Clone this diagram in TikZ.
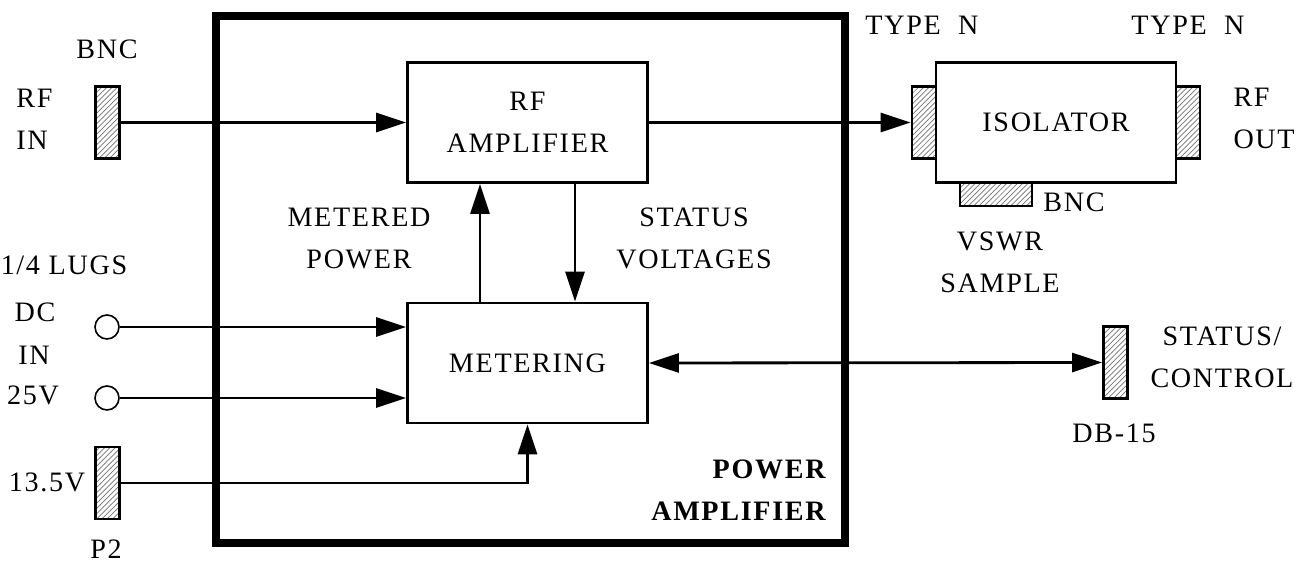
\documentclass[tikz,border=0pt]{standalone}
\usepackage{fontspec}
\setmainfont{Liberation Serif}[LetterSpace=6]
\usetikzlibrary{arrows.meta, patterns}
\newcommand{\labelfont}{\fontsize{16}{24}\selectfont}
\tikzset{
  frame line/.style={line width=4.5pt},
  block box/.style={draw, line width=1.6pt, fill=white, minimum width=4.8cm, minimum height=2.4cm, align=center, font=\labelfont},
  jack box/.style={draw, line width=1.6pt, pattern=north east lines, pattern color=black!55, minimum width=0.48cm, minimum height=1.44cm, inner sep=0pt},
  lug ring/.style={draw, line width=0.9pt, circle, minimum size=0.48cm, inner sep=0pt},
  signal line/.style={line width=1.6pt, -{Triangle[length=0.6cm, width=0.38cm]}},
  both line/.style={line width=1.6pt, {Triangle[length=0.6cm, width=0.38cm]}-{Triangle[length=0.6cm, width=0.38cm]}},
  label text/.style={font=\labelfont, align=center, inner sep=0pt, text depth=0pt},
}

\begin{document}
\begin{tikzpicture}[x=0.02cm, y=-0.02cm]
  \useasboundingbox (0,0) rectangle (1298,563);
  % power amplifier enclosure
  \draw[frame line] (216,16) rectangle (845,543);
  \node[label text, font=\labelfont\bfseries, align=right, anchor=east] (palabel) at (826,490) {POWER\\AMPLIFIER};
  % blocks
  \node[block box] (rfamp) at (527.5,122.5) {RF\\AMPLIFIER};
  \node[block box] (meter) at (527.5,363) {METERING};
  \node[jack box, minimum width=1.44cm, minimum height=0.48cm] (vswr) at (996,194) {};
  \node[block box] (iso) at (1056,122.5) {ISOLATOR};
  % connectors
  \node[jack box] (rfin) at (107.5,122.5) {};
  \node[jack box] (isoin) at (924,122.5) {};
  \node[jack box] (isoout) at (1188,122.5) {};
  \node[jack box] (db15) at (1115.5,362.5) {};
  \node[jack box] (ptwo) at (107.5,483) {};
  \node[lug ring] (lugpos) at (107,327) {};
  \node[lug ring] (lugneg) at (107,398) {};
  % labels
  \node[label text] (bnctag) at (107,49) {BNC};
  \node[label text, align=left, anchor=west] (rfintag) at (16,119) {RF\\IN};
  \node[label text] (lugstag) at (64,265) {1/4 LUGS};
  \node[label text] (dctag) at (35,312) {DC};
  \node[label text] (intag) at (34,355) {IN};
  \node[label text] (vtag) at (33,395) {25V};
  \node[label text] (ltag) at (47,482) {13.5V};
  \node[label text] (ptag) at (106,549) {P2};
  \node[label text] (mptag) at (359,238.5) {METERED\\POWER};
  \node[label text] (svtag) at (694,238.5) {STATUS\\VOLTAGES};
  \node[label text] (typea) at (922,25) {TYPE\ \ N};
  \node[label text] (typeb) at (1188,25) {TYPE\ \ N};
  \node[label text, align=left, anchor=east] (rfouttag) at (1295,118.5) {RF\\OUT};
  \node[label text] (bnctagb) at (1074,202) {BNC};
  \node[label text] (vswrtag) at (1000,262.5) {VSWR\\SAMPLE};
  \node[label text] (sctag) at (1222,357.5) {STATUS/\\CONTROL};
  \node[label text] (dbtag) at (1114,433) {DB-15};
  % signal paths
  \draw[signal line] (rfin.east) -- (rfamp.west);
  \draw[signal line] (rfamp.east) -- (isoin.west);
  \draw[signal line] ([xshift=-0.95cm]meter.north) -- ([xshift=-0.95cm]rfamp.south);
  \draw[signal line] ([xshift=0.95cm]rfamp.south) -- ([xshift=0.95cm]meter.north);
  \draw[signal line] (lugpos.east) -- (lugpos.east -| meter.west);
  \draw[signal line] (lugneg.east) -- (lugneg.east -| meter.west);
  \draw[signal line] (ptwo.east) -| (meter.south);
  \draw[both line] (meter.east) -- (db15.west);
\end{tikzpicture}
\end{document}
